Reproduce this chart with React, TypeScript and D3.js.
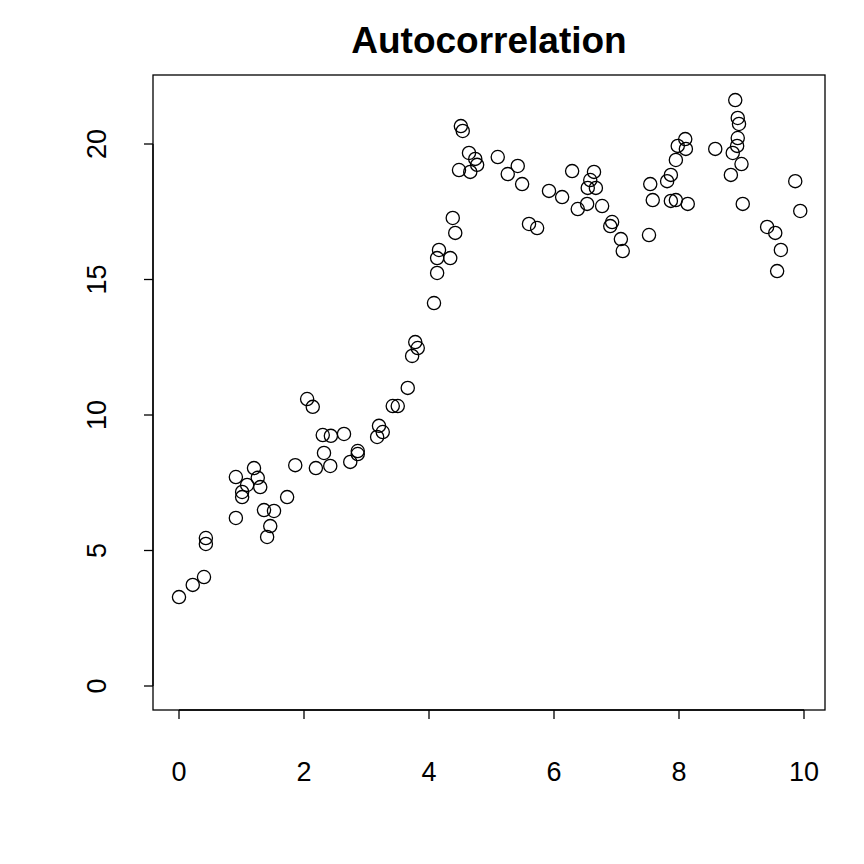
import React from 'react'
import * as d3 from 'd3'

const xs = [0, 0.22, 0.4, 0.43, 0.43, 0.91, 0.91, 1.01, 1.01, 1.09, 1.2, 1.26, 1.3, 1.36, 1.41, 1.46, 1.52, 1.73, 1.86,
  2.05, 2.14, 2.19, 2.3, 2.32, 2.43, 2.42, 2.64, 2.74, 2.86, 2.86, 3.17, 3.2, 3.26, 3.42, 3.5, 3.66, 3.73, 3.78, 3.82,
  4.08, 4.13, 4.13, 4.16, 4.34, 4.38, 4.42, 4.48, 4.51, 4.54, 4.64, 4.66, 4.74, 4.77, 5.1, 5.26, 5.42, 5.49, 5.6, 5.73,
  5.92, 6.13, 6.29, 6.38, 6.53, 6.54, 6.58, 6.64, 6.67, 6.77, 6.9, 6.93, 7.07, 7.1, 7.52, 7.54, 7.58, 7.81, 7.87, 7.87,
  7.95, 7.95, 7.98, 8.1, 8.11, 8.14, 8.58, 8.83, 8.86, 8.9, 8.93, 8.94, 8.94, 8.96, 9.0, 9.02, 9.41, 9.54, 9.57, 9.63,
  9.86, 9.94]
const ys = [3.28, 3.73, 4.02, 5.46, 5.24, 6.2, 7.71, 6.97, 7.16, 7.42, 8.04, 7.68, 7.34, 6.49, 5.5, 5.9, 6.46, 6.97, 8.15,
  10.59, 10.3, 8.04, 9.26, 8.6, 9.23, 8.12, 9.3, 8.27, 8.67, 8.56, 9.19, 9.6, 9.37, 10.33, 10.33, 11.0, 12.18, 12.69, 12.47,
  14.13, 15.24, 15.79, 16.09, 15.79, 17.27, 16.72, 19.04, 20.66, 20.48, 19.67, 18.97, 19.45, 19.23, 19.52, 18.89, 19.19, 18.52, 17.05, 16.9,
  18.27, 18.04, 19.0, 17.6, 17.79, 18.38, 18.67, 18.97, 18.38, 17.71, 16.97, 17.12, 16.49, 16.05, 16.64, 18.52, 17.93, 18.63, 18.86, 17.9,
  19.41, 17.93, 19.93, 20.18, 19.82, 17.79, 19.82, 18.86, 19.67, 21.62, 19.93, 20.96, 20.22, 20.74, 19.26, 17.79, 16.94, 16.72, 15.31, 16.09,
  18.63, 17.53]
const xTicks = [0, 2, 4, 6, 8, 10]
const yTicks = [0, 5, 10, 15, 20]

const box = { left: 153, right: 825, top: 75, bottom: 710 }
const font = '"Liberation Sans", Arial, sans-serif'

export default function App() {
  const x = d3.scaleLinear().domain([0, 10]).range([179, 804])
  const y = d3.scaleLinear().domain([0, 20]).range([686, 144])
  return (
    <svg width={864} height={864} style={{ position: 'absolute', left: 0, top: 0, background: '#fff' }} fontFamily={font}>
      <rect x={box.left} y={box.top} width={box.right - box.left} height={box.bottom - box.top} fill="none" stroke="#000" strokeWidth={1.3} />
      <text x={489} y={53} textAnchor="middle" fontSize={37} fontWeight="bold">Autocorrelation</text>
      <line x1={x(0)} x2={x(10)} y1={box.bottom} y2={box.bottom} stroke="#000" strokeWidth={1.3} />
      {xTicks.map(t => (
        <g key={t}>
          <line x1={x(t)} x2={x(t)} y1={box.bottom} y2={box.bottom + 9} stroke="#000" strokeWidth={1.3} />
          <text x={x(t)} y={781} textAnchor="middle" fontSize={27}>{t}</text>
        </g>
      ))}
      <line x1={box.left} x2={box.left} y1={y(0)} y2={y(20)} stroke="#000" strokeWidth={1.3} />
      {yTicks.map(t => (
        <g key={t}>
          <line x1={box.left - 9} x2={box.left} y1={y(t)} y2={y(t)} stroke="#000" strokeWidth={1.3} />
          <text transform={`translate(106,${y(t)}) rotate(-90)`} textAnchor="middle" fontSize={27}>{t}</text>
        </g>
      ))}
      {xs.map((v, i) => (
        <circle key={i} cx={x(v)} cy={y(ys[i])} r={6.6} fill="none" stroke="#000" strokeWidth={1.3} />
      ))}
    </svg>
  )
}
